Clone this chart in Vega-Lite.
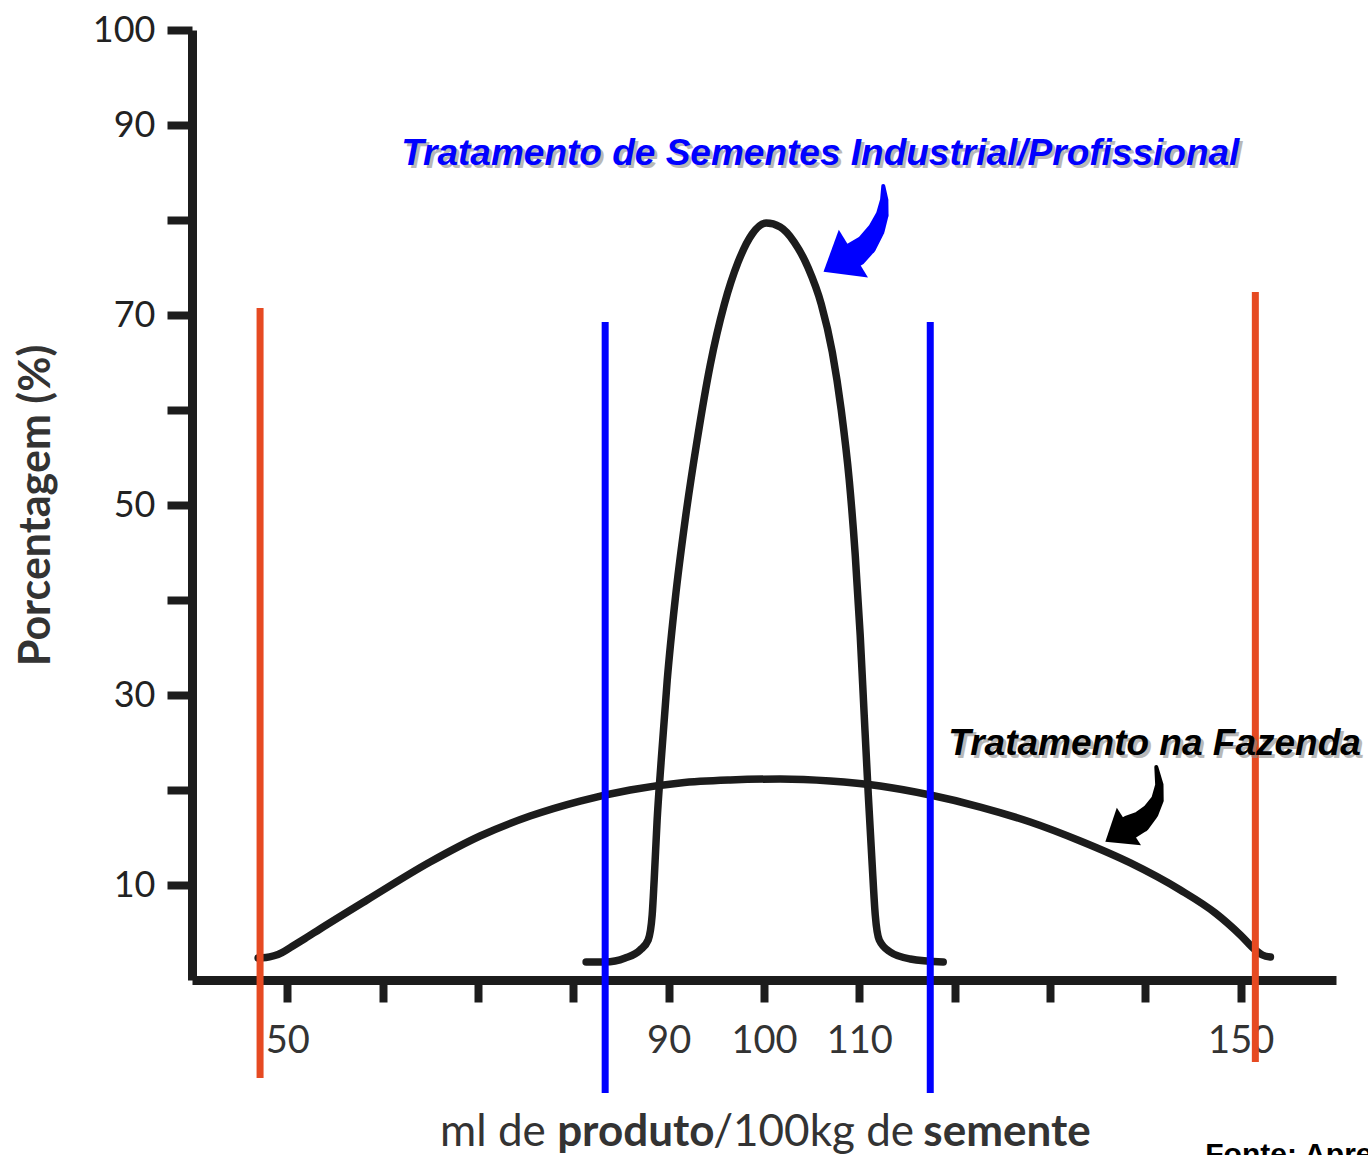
{
  "$schema": "https://vega.github.io/schema/vega-lite/v6.json",
  "width": 1144,
  "height": 950,
  "autosize": {"type": "none"},
  "padding": {"left": 192, "top": 30, "right": 32, "bottom": 175},
  "background": "white",
  "config": {"view": {"stroke": null}},
  "datasets": {
    "curves": [
      {"curva": "Fazenda", "x": 46.93, "y": 2.32},
      {"curva": "Fazenda", "x": 47.76, "y": 2.36},
      {"curva": "Fazenda", "x": 48.6, "y": 2.55},
      {"curva": "Fazenda", "x": 49.44, "y": 2.89},
      {"curva": "Fazenda", "x": 50.49, "y": 3.53},
      {"curva": "Fazenda", "x": 51.86, "y": 4.37},
      {"curva": "Fazenda", "x": 53.43, "y": 5.37},
      {"curva": "Fazenda", "x": 58.36, "y": 8.42},
      {"curva": "Fazenda", "x": 64.97, "y": 12.42},
      {"curva": "Fazenda", "x": 70.22, "y": 15.16},
      {"curva": "Fazenda", "x": 75.47, "y": 17.26},
      {"curva": "Fazenda", "x": 80.71, "y": 18.84},
      {"curva": "Fazenda", "x": 85.96, "y": 20.0},
      {"curva": "Fazenda", "x": 91.21, "y": 20.74},
      {"curva": "Fazenda", "x": 96.45, "y": 21.05},
      {"curva": "Fazenda", "x": 101.7, "y": 21.16},
      {"curva": "Fazenda", "x": 106.95, "y": 20.95},
      {"curva": "Fazenda", "x": 112.19, "y": 20.42},
      {"curva": "Fazenda", "x": 117.44, "y": 19.47},
      {"curva": "Fazenda", "x": 122.69, "y": 18.21},
      {"curva": "Fazenda", "x": 127.93, "y": 16.63},
      {"curva": "Fazenda", "x": 133.18, "y": 14.63},
      {"curva": "Fazenda", "x": 138.43, "y": 12.32},
      {"curva": "Fazenda", "x": 143.67, "y": 9.47},
      {"curva": "Fazenda", "x": 147.34, "y": 7.05},
      {"curva": "Fazenda", "x": 149.97, "y": 4.74},
      {"curva": "Fazenda", "x": 151.54, "y": 3.16},
      {"curva": "Fazenda", "x": 152.28, "y": 2.63},
      {"curva": "Fazenda", "x": 153.12, "y": 2.42},
      {"curva": "Industrial", "x": 81.34, "y": 1.89},
      {"curva": "Industrial", "x": 83.34, "y": 1.89},
      {"curva": "Industrial", "x": 85.44, "y": 2.32},
      {"curva": "Industrial", "x": 87.01, "y": 3.16},
      {"curva": "Industrial", "x": 87.85, "y": 4.21},
      {"curva": "Industrial", "x": 88.27, "y": 6.84},
      {"curva": "Industrial", "x": 88.48, "y": 10.53},
      {"curva": "Industrial", "x": 88.79, "y": 16.84},
      {"curva": "Industrial", "x": 89.22, "y": 23.16},
      {"curva": "Industrial", "x": 89.85, "y": 31.58},
      {"curva": "Industrial", "x": 90.68, "y": 40.0},
      {"curva": "Industrial", "x": 91.73, "y": 48.42},
      {"curva": "Industrial", "x": 92.99, "y": 56.84},
      {"curva": "Industrial", "x": 94.36, "y": 64.74},
      {"curva": "Industrial", "x": 95.82, "y": 71.05},
      {"curva": "Industrial", "x": 97.29, "y": 75.58},
      {"curva": "Industrial", "x": 98.76, "y": 78.53},
      {"curva": "Industrial", "x": 100.23, "y": 79.68},
      {"curva": "Industrial", "x": 101.7, "y": 79.26},
      {"curva": "Industrial", "x": 103.17, "y": 77.68},
      {"curva": "Industrial", "x": 104.64, "y": 74.95},
      {"curva": "Industrial", "x": 106.0, "y": 71.16},
      {"curva": "Industrial", "x": 107.16, "y": 66.11},
      {"curva": "Industrial", "x": 108.1, "y": 60.0},
      {"curva": "Industrial", "x": 108.94, "y": 52.63},
      {"curva": "Industrial", "x": 109.57, "y": 44.74},
      {"curva": "Industrial", "x": 110.09, "y": 36.32},
      {"curva": "Industrial", "x": 110.51, "y": 27.89},
      {"curva": "Industrial", "x": 110.94, "y": 19.47},
      {"curva": "Industrial", "x": 111.35, "y": 12.11},
      {"curva": "Industrial", "x": 111.67, "y": 6.84},
      {"curva": "Industrial", "x": 112.09, "y": 4.21},
      {"curva": "Industrial", "x": 113.24, "y": 2.95},
      {"curva": "Industrial", "x": 115.34, "y": 2.21},
      {"curva": "Industrial", "x": 118.8, "y": 1.89}
    ],
    "limits": [
      {"grupo": "lim_faz", "x": 47.14, "y": 70.74, "y2": -10.32},
      {"grupo": "lim_ind", "x": 83.34, "y": 69.26, "y2": -11.89},
      {"grupo": "lim_ind", "x": 117.44, "y": 69.26, "y2": -11.89},
      {"grupo": "lim_faz", "x": 151.54, "y": 72.42, "y2": -8.63}
    ],
    "arrows": [
      {"grupo": "seta_ind", "k": 0, "x": 112.51, "y": 83.58},
      {"grupo": "seta_ind", "k": 1, "x": 112.61, "y": 82.11},
      {"grupo": "seta_ind", "k": 2, "x": 112.4, "y": 80.53},
      {"grupo": "seta_ind", "k": 3, "x": 111.77, "y": 78.95},
      {"grupo": "seta_ind", "k": 4, "x": 110.72, "y": 77.37},
      {"grupo": "seta_ind", "k": 5, "x": 109.57, "y": 76.42},
      {"grupo": "seta_faz", "k": 0, "x": 141.15, "y": 22.42},
      {"grupo": "seta_faz", "k": 1, "x": 141.47, "y": 20.53},
      {"grupo": "seta_faz", "k": 2, "x": 141.26, "y": 18.95},
      {"grupo": "seta_faz", "k": 3, "x": 140.53, "y": 17.68},
      {"grupo": "seta_faz", "k": 4, "x": 139.48, "y": 16.63},
      {"grupo": "seta_faz", "k": 4.6, "x": 138.43, "y": 16.11}
    ],
    "head_ind": [{"x": 107.81, "y": 75.51}],
    "head_faz": [{"x": 137.04, "y": 15.36}],
    "lbl_ind": [{"x": 105.9, "y": 85.79, "t": "Tratamento de Sementes Industrial/Profissional"}],
    "lbl_faz": [{"x": 119.33, "y": 23.68, "t": "Tratamento na Fazenda"}],
    "xt_normal": [
      {"x": 66.02, "y": -17.47, "t": "ml de"},
      {"x": 94.67, "y": -17.47, "t": "/100kg de"}
    ],
    "xt_bold": [
      {"x": 78.3, "y": -17.47, "t": "produto"},
      {"x": 116.71, "y": -17.47, "t": "semente"}
    ],
    "fonte": [{"x": 146.29, "y": -19.42, "t": "Fonte: Apresentação do autor"}]
  },
  "layer": [
    {
      "data": {"name": "curves"},
      "mark": {"type": "line", "interpolate": "monotone", "strokeWidth": 7.5, "color": "#1c1c1c", "strokeCap": "round", "strokeJoin": "round"},
      "encoding": {
        "x": {
          "field": "x", "type": "quantitative",
          "scale": {"domain": [40, 160], "nice": false, "zero": false},
          "axis": {
            "title": null, "grid": false,
            "values": [50, 60, 70, 80, 90, 100, 110, 120, 130, 140, 150],
            "labelExpr": "indexof([50,90,100,110,150], datum.value) >= 0 ? datum.label : ''",
            "domainColor": "#1c1c1c", "domainWidth": 9,
            "tickColor": "#1c1c1c", "tickWidth": 8, "tickSize": 22,
            "labelFont": "Lato", "labelFontSize": 38, "labelColor": "#333333",
            "labelPadding": 20, "labelFlush": false, "labelOverlap": false
          }
        },
        "y": {
          "field": "y", "type": "quantitative",
          "scale": {"domain": [0, 100], "nice": false, "zero": false},
          "axis": {
            "title": "Porcentagem (%)", "grid": false,
            "values": [10, 20, 30, 40, 50, 60, 70, 80, 90, 100],
            "labelExpr": "indexof([10,30,50,70,90,100], datum.value) >= 0 ? datum.label : ''",
            "domainColor": "#1c1c1c", "domainWidth": 9,
            "tickColor": "#1c1c1c", "tickWidth": 8, "tickSize": 25,
            "labelFont": "Lato", "labelFontSize": 36, "labelColor": "#222222",
            "labelPadding": 12, "labelFlush": false, "labelOverlap": false,
            "titleFont": "Lato", "titleFontSize": 43, "titleFontWeight": "bold",
            "titleColor": "#333333", "titlePadding": 34
          }
        },
        "detail": {"field": "curva"}
      }
    },
    {
      "data": {"name": "limits"},
      "mark": {"type": "rule", "strokeWidth": 7},
      "encoding": {
        "x": {"field": "x", "type": "quantitative"},
        "y": {"field": "y", "type": "quantitative"},
        "y2": {"field": "y2"},
        "color": {"field": "grupo", "type": "nominal", "legend": null,
          "scale": {"domain": ["lim_faz", "lim_ind", "seta_ind", "seta_faz"], "range": ["#e64a22", "#0000ff", "#0000ff", "#000000"]}}
      }
    },
    {
      "data": {"name": "arrows"},
      "mark": {"type": "trail"},
      "encoding": {
        "x": {"field": "x", "type": "quantitative"},
        "y": {"field": "y", "type": "quantitative"},
        "order": {"field": "k"},
        "detail": {"field": "grupo"},
        "size": {"field": "k", "type": "quantitative", "legend": null, "scale": {"domain": [0, 5], "range": [4, 26]}},
        "color": {"field": "grupo", "type": "nominal", "legend": null,
          "scale": {"domain": ["lim_faz", "lim_ind", "seta_ind", "seta_faz"], "range": ["#e64a22", "#0000ff", "#0000ff", "#000000"]}}
      }
    },
    {
      "data": {"name": "head_ind"},
      "mark": {"type": "point", "shape": "M -0.5 0 L 0.5 -0.8 L 0.5 0.8 Z", "filled": true, "opacity": 1, "size": 4900, "angle": 328.6, "color": "#0000ff"},
      "encoding": {"x": {"field": "x", "type": "quantitative"}, "y": {"field": "y", "type": "quantitative"}}
    },
    {
      "data": {"name": "head_faz"},
      "mark": {"type": "point", "shape": "M -0.5 0 L 0.5 -0.8 L 0.5 0.8 Z", "filled": true, "opacity": 1, "size": 3136, "angle": 327.3, "color": "#000000"},
      "encoding": {"x": {"field": "x", "type": "quantitative"}, "y": {"field": "y", "type": "quantitative"}}
    },
    {
      "data": {"name": "lbl_ind"},
      "mark": {"type": "text", "font": "Liberation Sans", "fontSize": 37, "fontWeight": "bold", "fontStyle": "italic", "align": "center", "baseline": "alphabetic", "dx": 3, "dy": 3, "color": "#8a8a8a", "opacity": 0.6},
      "encoding": {"x": {"field": "x", "type": "quantitative"}, "y": {"field": "y", "type": "quantitative"}, "text": {"field": "t"}}
    },
    {
      "data": {"name": "lbl_ind"},
      "mark": {"type": "text", "font": "Liberation Sans", "fontSize": 37, "fontWeight": "bold", "fontStyle": "italic", "align": "center", "baseline": "alphabetic", "color": "#0000ff"},
      "encoding": {"x": {"field": "x", "type": "quantitative"}, "y": {"field": "y", "type": "quantitative"}, "text": {"field": "t"}}
    },
    {
      "data": {"name": "lbl_faz"},
      "mark": {"type": "text", "font": "Liberation Sans", "fontSize": 37, "fontWeight": "bold", "fontStyle": "italic", "align": "left", "baseline": "alphabetic", "dx": 3, "dy": 3, "color": "#8a8a8a", "opacity": 0.6},
      "encoding": {"x": {"field": "x", "type": "quantitative"}, "y": {"field": "y", "type": "quantitative"}, "text": {"field": "t"}}
    },
    {
      "data": {"name": "lbl_faz"},
      "mark": {"type": "text", "font": "Liberation Sans", "fontSize": 37, "fontWeight": "bold", "fontStyle": "italic", "align": "left", "baseline": "alphabetic", "color": "#000000"},
      "encoding": {"x": {"field": "x", "type": "quantitative"}, "y": {"field": "y", "type": "quantitative"}, "text": {"field": "t"}}
    },
    {
      "data": {"name": "xt_normal"},
      "mark": {"type": "text", "font": "Lato", "fontSize": 44, "align": "left", "baseline": "alphabetic", "color": "#333333"},
      "encoding": {"x": {"field": "x", "type": "quantitative"}, "y": {"field": "y", "type": "quantitative"}, "text": {"field": "t"}}
    },
    {
      "data": {"name": "xt_bold"},
      "mark": {"type": "text", "font": "Lato", "fontSize": 44, "fontWeight": "bold", "align": "left", "baseline": "alphabetic", "color": "#333333"},
      "encoding": {"x": {"field": "x", "type": "quantitative"}, "y": {"field": "y", "type": "quantitative"}, "text": {"field": "t"}}
    },
    {
      "data": {"name": "fonte"},
      "mark": {"type": "text", "font": "Liberation Sans", "fontSize": 30, "fontWeight": "bold", "align": "left", "baseline": "alphabetic", "color": "#000000"},
      "encoding": {"x": {"field": "x", "type": "quantitative"}, "y": {"field": "y", "type": "quantitative"}, "text": {"field": "t"}}
    }
  ]
}
